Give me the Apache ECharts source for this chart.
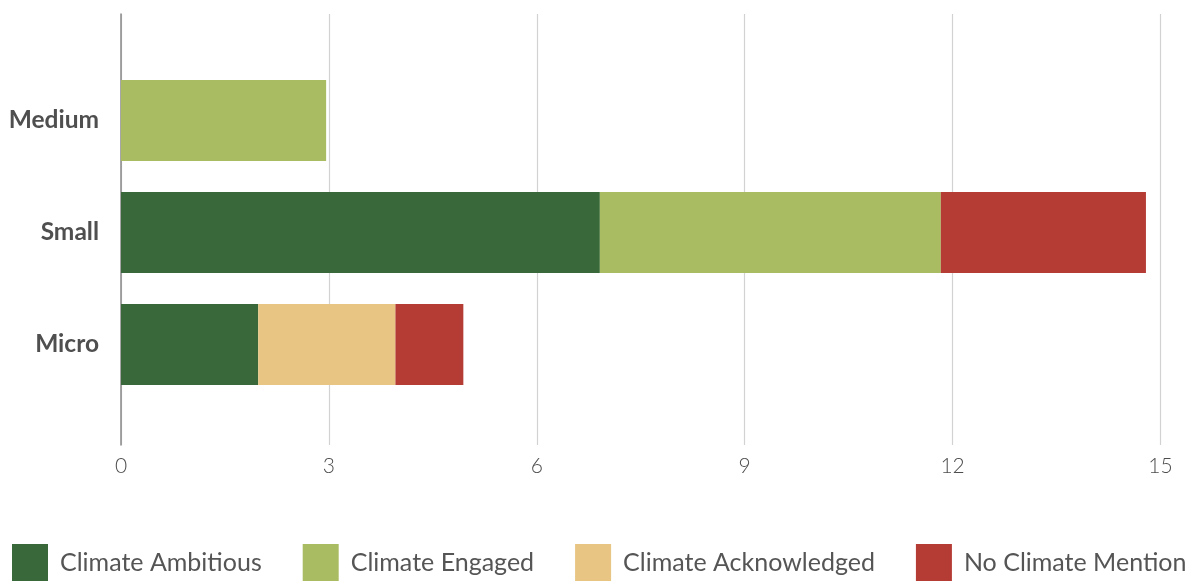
<!DOCTYPE html>
<html>
<head>
<meta charset="utf-8">
<title>Climate disclosure by company size</title>
<script src="https://cdn.jsdelivr.net/npm/echarts@6/dist/echarts.min.js"></script>
<style>
  html, body { margin: 0; padding: 0; background: #ffffff; }
  #chart { width: 1189px; height: 581px; }
</style>
</head>
<body>
<div id="chart"></div>
<script>
// Company size bands, listed bottom-to-top as the category axis draws them
const categories = ['Micro', 'Small', 'Medium'];

// Number of companies per climate-disclosure group
const climateAmbitious    = [1.98, 6.91, 0];
const climateEngaged      = [0, 4.92, 2.96];
const climateAcknowledged = [1.98, 0, 0];
const noClimateMention    = [0.98, 2.96, 0];

const xTicks = { min: 0, max: 15, interval: 3 };

const seriesNames  = ['Climate Ambitious', 'Climate Engaged', 'Climate Acknowledged', 'No Climate Mention'];
const seriesData   = [climateAmbitious, climateEngaged, climateAcknowledged, noClimateMention];
const seriesColors = ['#39693a', '#a9bc62', '#e8c582', '#b53c35'];

const FONT = 'Lato, "Open Sans", sans-serif';
const chart = echarts.init(document.getElementById('chart'));

chart.setOption({
  animation: false,
  backgroundColor: '#ffffff',
  grid: [
    // frame: gridlines, value labels and the left axis line
    { left: 121, right: 28.5, top: 14, bottom: 136 },
    // bars and size labels
    { left: 121, right: 28.5, top: 64.5, bottom: 180.5 }
  ],
  xAxis: [
    {
      gridIndex: 0, type: 'value',
      min: xTicks.min, max: xTicks.max, interval: xTicks.interval,
      axisLine: { show: false }, axisTick: { show: false },
      splitLine: { show: true, lineStyle: { color: '#d2d2d2', width: 1.2 } },
      axisLabel: { margin: 11, color: '#4d4d4d', fontFamily: FONT, fontSize: 21, fontWeight: 300 }
    },
    {
      gridIndex: 1, type: 'value',
      min: xTicks.min, max: xTicks.max,
      show: false, splitLine: { show: false }
    }
  ],
  yAxis: [
    {
      gridIndex: 0, type: 'value', min: 0, max: 1,
      axisLine: { show: true, lineStyle: { color: '#8a8a8a', width: 1.5 } },
      axisTick: { show: false }, axisLabel: { show: false }, splitLine: { show: false }
    },
    {
      gridIndex: 1, type: 'category', data: categories,
      axisLine: { show: false }, axisTick: { show: false },
      axisLabel: { margin: 22, color: '#4f4f4f', fontFamily: FONT, fontSize: 24.5, fontWeight: 'bold' }
    }
  ],
  legend: {
    top: 544, left: 12, width: 1300, padding: 0,
    itemWidth: 36, itemHeight: 37, itemGap: 41,
    icon: 'rect',
    textStyle: { color: '#555555', fontFamily: FONT, fontSize: 25, padding: [0, 0, 0, 7] },
    data: seriesNames
  },
  series: seriesNames.map((name, i) => ({
    name: name,
    type: 'bar',
    stack: 'total',
    xAxisIndex: 1, yAxisIndex: 1,
    barWidth: 81,
    itemStyle: { color: seriesColors[i] },
    data: seriesData[i]
  }))
});
</script>
</body>
</html>
